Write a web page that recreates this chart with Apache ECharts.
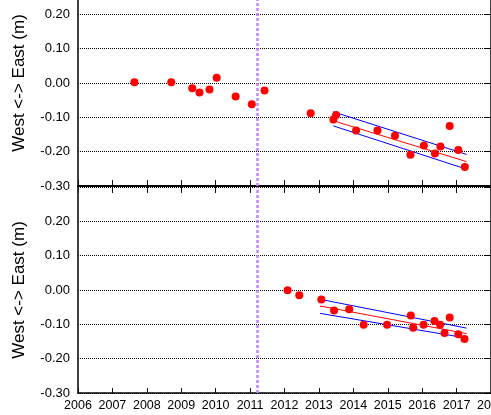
<!DOCTYPE html>
<html>
<head>
<meta charset="utf-8">
<script src="https://cdn.jsdelivr.net/npm/echarts@6/dist/echarts.min.js"></script>
<style>html,body{margin:0;padding:0;background:#fff;}#c{width:491px;height:415px;}</style>
</head>
<body>
<div id="c"></div>
<script>
// ---- data ----
var quakeYear = 2011.2;
var xTicks = [2006, 2018, 1];
var yRange = [-0.3, 0.3, 0.1];

var topYears  = [2007.64, 2008.71, 2009.32, 2009.53, 2009.82, 2010.03, 2010.58, 2011.05, 2011.42, 2012.76, 2013.42, 2013.50, 2014.08, 2014.70, 2015.21, 2015.66, 2016.05, 2016.37, 2016.53, 2016.80, 2017.05, 2017.24];
var topValues = [0.002, 0.002, -0.015, -0.028, -0.019, 0.015, -0.039, -0.062, -0.022, -0.088, -0.106, -0.093, -0.138, -0.138, -0.154, -0.209, -0.182, -0.205, -0.185, -0.125, -0.195, -0.245];

var botYears  = [2012.09, 2012.43, 2013.07, 2013.44, 2013.88, 2014.30, 2014.98, 2015.67, 2015.74, 2016.04, 2016.36, 2016.52, 2016.65, 2016.80, 2017.05, 2017.23];
var botValues = [-0.001, -0.015, -0.028, -0.060, -0.056, -0.101, -0.101, -0.074, -0.110, -0.101, -0.090, -0.101, -0.125, -0.080, -0.129, -0.143];

var topTrendYears = [2013.42, 2017.29];
var topTrendMid   = [-0.110, -0.229];
var topTrendHi    = [-0.084, -0.208];
var topTrendLo    = [-0.125, -0.251];

var botTrendYears = [2013.03, 2017.29];
var botTrendMid   = [-0.0465, -0.127];
var botTrendHi    = [-0.027, -0.111];
var botTrendLo    = [-0.068, -0.140];

// ---- helpers ----
function pairs(xs, ys){ return xs.map(function(x,i){ return [x, ys[i]]; }); }
var FONT = 'Liberation Sans, Arial, sans-serif';

function xAxis(grid, position, showLabels, lineWidth, showLine, tickLen){
  return {
    type:'value', gridIndex:grid, position:position, min:xTicks[0], max:xTicks[1], interval:xTicks[2],
    axisLine:{show:showLine, onZero:false, lineStyle:{color:'#000', width:lineWidth}},
    axisTick:{show:true, inside:true, length:tickLen, lineStyle:{color:'#111', width:1}},
    axisLabel:{show:showLabels, margin:6, fontFamily:FONT, fontSize:12.5, color:'#000',
      formatter:function(v){ return String(Math.round(v)); }},
    splitLine:{show:false}
  };
}
function yLeft(grid, showMax){
  return {
    type:'value', gridIndex:grid, position:'left', min:yRange[0], max:yRange[1], interval:yRange[2],
    name:'West <-> East (m)', nameLocation:'middle', nameGap:50,
    nameTextStyle:{fontFamily:FONT, fontSize:17, color:'#000'},
    axisLine:{show:true, onZero:false, lineStyle:{color:'#000', width:1.5}},
    axisTick:{show:false},
    axisLabel:{show:true, margin:8, fontFamily:FONT, fontSize:13, color:'#000',
      showMaxLabel:showMax,
      formatter:function(v){ return v.toFixed(2); }},
    splitLine:{show:true, lineStyle:{color:'#000', width:1, type:'dotted'}}
  };
}
function yRight(grid){
  return {
    type:'value', gridIndex:grid, position:'right', min:yRange[0], max:yRange[1], interval:yRange[2],
    axisLine:{show:true, onZero:false, lineStyle:{color:'#000', width:1.5}},
    axisTick:{show:true, inside:true, length:6, lineStyle:{color:'#000'}},
    axisLabel:{show:false}, splitLine:{show:false}
  };
}
function line(xi, yi, xs, ys, color){
  return {type:'line', xAxisIndex:xi, yAxisIndex:yi, data:pairs(xs, ys), symbol:'none',
    lineStyle:{color:color, width:1}, silent:true, z:3};
}
function quake(xi, yi){
  return {type:'line', xAxisIndex:xi, yAxisIndex:yi, data:[], silent:true,
    markLine:{symbol:'none', silent:true, label:{show:false},
      lineStyle:{color:'#C185F2', width:2.5, type:[3,2]},
      data:[{xAxis:quakeYear}]}};
}

var option = {
  animation:false,
  backgroundColor:'#fff',
  grid:[
    {left:78, right:0, top:-20, height:206, outerBoundsMode:'none'},
    {left:78, right:0, top:187, height:206, outerBoundsMode:'none'}
  ],
  xAxis:[
    xAxis(0, 'bottom', false, 2, true, 6),
    xAxis(1, 'bottom', true, 1.5, true, 5),
    xAxis(1, 'top', false, 1, false, 6)
  ],
  yAxis:[ yLeft(0, true), yLeft(1, false), yRight(0), yRight(1) ],
  series:[
    quake(0,0), quake(1,1),
    line(0,0, topTrendYears, topTrendHi, '#0000FF'),
    line(0,0, topTrendYears, topTrendLo, '#0000FF'),
    line(0,0, topTrendYears, topTrendMid, '#FF0000'),
    line(1,1, botTrendYears, botTrendHi, '#0000FF'),
    line(1,1, botTrendYears, botTrendLo, '#0000FF'),
    line(1,1, botTrendYears, botTrendMid, '#FF0000'),
    {type:'scatter', xAxisIndex:0, yAxisIndex:0, data:pairs(topYears, topValues), symbolSize:8,
      itemStyle:{color:'#FF0000', opacity:1}, z:4},
    {type:'scatter', xAxisIndex:1, yAxisIndex:1, data:pairs(botYears, botValues), symbolSize:8,
      itemStyle:{color:'#FF0000', opacity:1}, z:4}
  ]
};
var chart = echarts.init(document.getElementById('c'), null, {renderer:'canvas'});
chart.setOption(option);
</script>
</body>
</html>
